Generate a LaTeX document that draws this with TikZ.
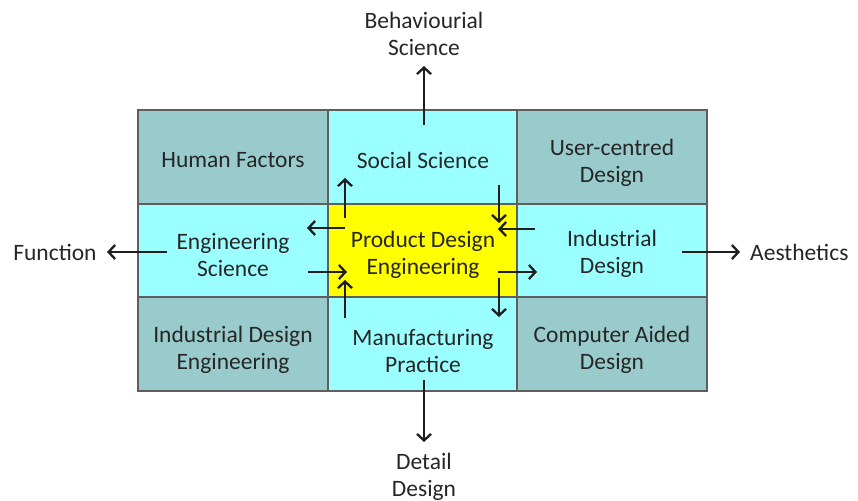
\documentclass[tikz,border=0pt]{standalone}
\usepackage{fontspec}
\setmainfont{Carlito}
\usetikzlibrary{arrows.meta}
\definecolor{cornercol}{HTML}{9ACBCC}
\definecolor{midcol}{HTML}{9BFFFF}
\definecolor{centercol}{HTML}{FFFF00}
\definecolor{gridcol}{HTML}{5E5E5E}
\definecolor{txtcol}{HTML}{262626}
\definecolor{arrcol}{HTML}{1E1E1E}
\begin{document}
\begin{tikzpicture}[x=1pt,y=-1pt,
  cell/.style={minimum width=190pt,minimum height=94pt,inner sep=0pt,outer sep=0pt,
    draw=gridcol,line width=1.4pt},
  lbl/.style={inner sep=0pt,align=center,text=txtcol,font=\fontsize{23.5}{27.5}\selectfont},
  arr/.style={draw=arrcol,line width=2.5pt,-{Straight Barb[length=6.5pt,width=14pt,line width=2.3pt]}}]
\useasboundingbox (0,0) rectangle (858,500);
% cells
\node[cell,fill=cornercol] (hf) at (233,157) {};
\node[cell,fill=midcol] (ss) at (423,157) {};
\node[cell,fill=cornercol] (uc) at (612,157) {};
\node[cell,fill=midcol] (es) at (233,251) {};
\node[cell,fill=centercol] (pde) at (423,251) {};
\node[cell,fill=midcol] (id) at (612,251) {};
\node[cell,fill=cornercol] (ide) at (233,344) {};
\node[cell,fill=midcol] (mp) at (423,344) {};
\node[cell,fill=cornercol] (cad) at (612,344) {};
% cell texts
\node[lbl] (hft) at ([yshift=-3pt]hf.center) {Human Factors};
\node[lbl] (sst) at ([yshift=-3pt]ss.center) {Social Science};
\node[lbl] (uct) at ([yshift=-6pt]uc.center) {User-centred\\Design};
\node[lbl] (est) at ([yshift=-4pt]es.center) {Engineering\\Science};
\node[lbl] (pdet) at ([yshift=-4pt]pde.center) {Product Design\\Engineering};
\node[lbl] (idt) at ([yshift=-3pt]id.center) {Industrial\\Design};
\node[lbl] (idet) at ([yshift=-6pt]ide.center) {Industrial Design\\Engineering};
\node[lbl] (mpt) at ([yshift=-7pt]mp.center) {Manufacturing\\Practice};
\node[lbl] (cadt) at ([yshift=-6pt]cad.center) {Computer Aided\\Design};
% outer labels
\node[lbl] (bs) at (424,34) {Behaviourial\\Science};
\node[lbl] (fn) at (55,252) {Function};
\node[lbl,anchor=west] (ae) at (750,252) {Aesthetics};
\node[lbl] (dd) at (424,477) {Detail\\Design};
% coordinates for arrows
\coordinate (a1s) at (345,218); \coordinate (a1e) at (345,178);
\coordinate (a2s) at (345,228); \coordinate (a2e) at (307,228);
\coordinate (a3s) at (499,185); \coordinate (a3e) at (499,223);
\coordinate (a4s) at (535,229); \coordinate (a4e) at (498,229);
\coordinate (a5s) at (308,272); \coordinate (a5e) at (347,272);
\coordinate (a6s) at (345,318); \coordinate (a6e) at (345,280);
\coordinate (a7s) at (498,272); \coordinate (a7e) at (537,272);
\coordinate (a8s) at (499,278); \coordinate (a8e) at (499,317);
\coordinate (o1s) at (424,125); \coordinate (o1e) at (424,66);
\coordinate (o2s) at (167,252); \coordinate (o2e) at (107,252);
\coordinate (o3s) at (682,252); \coordinate (o3e) at (740,252);
\coordinate (o4s) at (424,380); \coordinate (o4e) at (424,442);
\foreach \n in {a1,a2,a3,a4,a5,a6,a7,a8,o1,o2,o3,o4}
  \draw[arr] (\n s) -- (\n e);
\end{tikzpicture}
\end{document}
